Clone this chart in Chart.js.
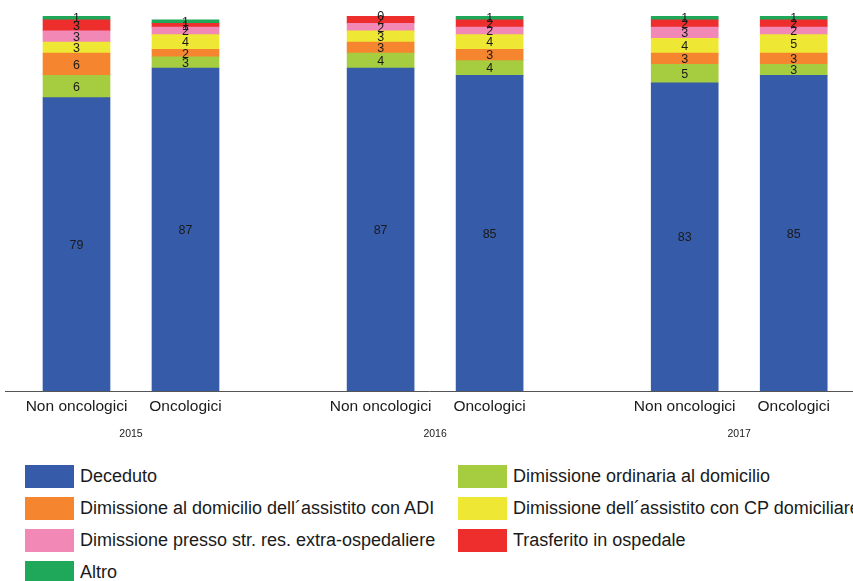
<!DOCTYPE html>
<html>
<head>
<meta charset="utf-8">
<script src="https://cdn.jsdelivr.net/npm/chart.js@4.4.1/dist/chart.umd.min.js"></script>
<style>
  html, body { margin: 0; padding: 0; background: #fff; overflow: hidden; }
  body { width: 853px; height: 581px; position: relative; font-family: "Liberation Sans", Arial, sans-serif; }
  #wrap { position: absolute; left: 0; top: 0; width: 853px; height: 451px; }
  #legend { position: absolute; left: 25px; top: 465px; width: 828px; overflow: hidden; }
  .row { display: flex; height: 32px; }
  .item { display: flex; align-items: center; height: 23px; white-space: nowrap; font-size: 18px; color: #1a1a1a; flex: none; min-width: 0; }
  .item.c1 { width: 433px; }
  .box { width: 49px; height: 23px; margin-right: 6px; flex: none; }
</style>
</head>
<body>
<div id="wrap"><canvas id="chart"></canvas></div>
<div id="legend"></div>
<script>
const years = ['2015', '2016', '2017'];
const groups = ['Non oncologici', 'Oncologici'];

const seriesNames = [
  'Deceduto',
  'Dimissione ordinaria al domicilio',
  'Dimissione al domicilio dell´assistito con ADI',
  'Dimissione dell´assistito con CP domiciliare',
  'Dimissione presso str. res. extra-ospedaliere',
  'Trasferito in ospedale',
  'Altro'
];

// one value per bar: 2015 non onc, 2015 onc, 2016 non onc, 2016 onc, 2017 non onc, 2017 onc
const deceduto   = [79, 87, 87, 85, 83, 85];
const ordinaria  = [6, 3, 4, 4, 5, 3];
const adi        = [6, 2, 3, 3, 3, 3];
const cpDomic    = [3, 4, 3, 4, 4, 5];
const extraOsp   = [3, 2, 2, 2, 3, 2];
const trasferito = [3, 1, 2, 2, 2, 2];
const altro      = [1, 1, 0, 1, 1, 1];

const colors = ['#365ba9', '#a6cd40', '#f5852f', '#eee834', '#f288b6', '#ee2e2d', '#1fa75a'];
const series = [deceduto, ordinaria, adi, cpDomic, extraOsp, trasferito, altro];

// x positions: bars one unit apart inside a year, years 2.79 units apart
const groupStep = 2.79;
const barPos = [];
const ticks = [];
years.forEach((y, g) => groups.forEach((name, i) => {
  barPos.push(g * groupStep + i);
  ticks.push({ value: g * groupStep + i, label: name, year: false });
}));
// the year sits on a second line, under the middle of its pair of bars
years.forEach((y, g) => ticks.push({ value: g * groupStep + 0.5, label: ['', y], year: true }));

const datasets = series.map((vals, s) => ({
  label: seriesNames[s],
  data: vals.map((v, i) => ({ x: barPos[i], y: v })),
  backgroundColor: colors[s],
  borderWidth: 0,
  barThickness: 67
}));

// value written in the middle of every segment
const segmentLabels = {
  id: 'segmentLabels',
  afterDatasetsDraw(chart) {
    const ctx = chart.ctx;
    ctx.save();
    ctx.font = '12.5px "Liberation Sans", Arial, sans-serif';
    ctx.fillStyle = '#1a1a1a';
    ctx.textAlign = 'center';
    ctx.textBaseline = 'middle';
    chart.data.datasets.forEach((ds, di) => {
      chart.getDatasetMeta(di).data.forEach((bar, i) => {
        const v = ds.data[i].y;
        ctx.fillText(String(v), bar.x, (bar.y + bar.base) / 2 + 1);
      });
    });
    ctx.restore();
  }
};

const fontFamily = '"Liberation Sans", Arial, sans-serif';

new Chart(document.getElementById('chart'), {
  type: 'bar',
  data: { datasets },
  options: {
    responsive: true,
    maintainAspectRatio: false,
    animation: false,
    layout: { padding: { left: 5, right: 0, top: 16, bottom: 0 } },
    plugins: { legend: { display: false }, tooltip: { enabled: false } },
    scales: {
      x: {
        type: 'linear',
        stacked: true,
        min: -0.656,
        max: 7.124,
        offset: false,
        grid: { display: false, drawTicks: false },
        border: { display: true, color: '#555', width: 1 },
        afterBuildTicks: axis => { axis.ticks = ticks.map(t => ({ value: t.value })); },
        ticks: {
          autoSkip: false,
          maxRotation: 0,
          padding: 4,
          color: '#1a1a1a',
          font: c => ticks[c.index] && ticks[c.index].year
            ? { family: fontFamily, size: 10.5, lineHeight: '26px' }
            : { family: fontFamily, size: 15.5, lineHeight: '24px' },
          callback: (v, i) => ticks[i].label
        }
      },
      y: {
        stacked: true,
        display: false,
        min: 0,
        max: 101
      }
    }
  },
  plugins: [segmentLabels]
});

// two-column legend
const legend = document.getElementById('legend');
for (let r = 0; r < seriesNames.length; r += 2) {
  const row = document.createElement('div');
  row.className = 'row';
  [r, r + 1].forEach((s, c) => {
    if (s >= seriesNames.length) return;
    const item = document.createElement('div');
    item.className = 'item' + (c === 0 ? ' c1' : '');
    item.innerHTML = '<span class="box" style="background:' + colors[s] + '"></span>' + seriesNames[s];
    row.appendChild(item);
  });
  legend.appendChild(row);
}
</script>
</body>
</html>
